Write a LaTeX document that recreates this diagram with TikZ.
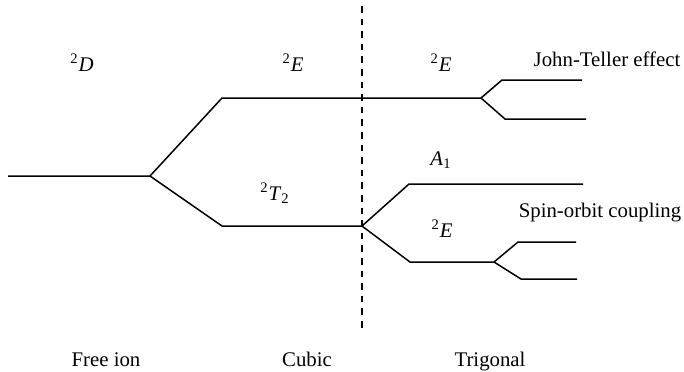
\documentclass[tikz,border=0pt]{standalone}
\usepackage{fontspec}
\setmainfont{Liberation Serif}
\tikzset{
  level/.style={line width=0.75pt},
  lbl/.style={anchor=base, inner sep=0pt, font=\fontsize{10.4}{12}\selectfont},
  divider/.style={line width=0.75pt, dash pattern=on 3.3pt off 3pt}
}
\begin{document}
\begin{tikzpicture}[x=0.5pt, y=-0.5pt]
  \useasboundingbox (0,0) rectangle (684,371);
  % Define level end points
  \coordinate (fiL) at (8,176);
  \coordinate (fiR) at (150,176);
  \coordinate (cEL) at (222,98);
  \coordinate (cER) at (481,98);
  \coordinate (cTL) at (222,226);
  \coordinate (cTR) at (362,226);
  \coordinate (jtaL) at (502,80);
  \coordinate (jtaR) at (582,80);
  \coordinate (jtbL) at (505,119);
  \coordinate (jtbR) at (586,119);
  \coordinate (aL) at (409,184);
  \coordinate (aR) at (583,184);
  \coordinate (tEL) at (410,262);
  \coordinate (tER) at (494,262);
  \coordinate (soaL) at (518,242);
  \coordinate (soaR) at (576,242);
  \coordinate (sobL) at (521,279);
  \coordinate (sobR) at (577,279);
  \coordinate (dTop) at (362,6);
  \coordinate (dBot) at (362,330);

  % Draw levels
  \draw[level] (fiL) -- (fiR) -- (cEL) -- (cER) -- (jtaL) -- (jtaR);
  \draw[level] (cER) -- (jtbL) -- (jtbR);
  \draw[level] (fiR) -- (cTL) -- (cTR) -- (aL) -- (aR);
  \draw[level] (cTR) -- (tEL) -- (tER) -- (soaL) -- (soaR);
  \draw[level] (tER) -- (sobL) -- (sobR);

  % Cubic / trigonal divider
  \draw[divider] (dTop) -- (dBot);

  % Term labels
  \node[lbl] (D) at (82,71) {\textsuperscript{2}\textit{D}};
  \node[lbl] (Ec) at (293,71) {\textsuperscript{2}\textit{E}};
  \node[lbl] (Et) at (441,71) {\textsuperscript{2}\textit{E}};
  \node[lbl] (JT) at (607,66) {John-Teller effect};
  \node[lbl] (A) at (441,165) {\textit{A}\textsubscript{1}};
  \node[lbl] (T) at (275,200) {\textsuperscript{2}\textit{T}\textsubscript{2}};
  \node[lbl] (SO) at (600,217) {Spin-orbit coupling};
  \node[lbl] (Eb) at (442,237) {\textsuperscript{2}\textit{E}};

  % Symmetry labels
  \node[lbl] (free) at (106,366) {Free ion};
  \node[lbl] (cubic) at (307,366) {Cubic};
  \node[lbl] (trig) at (490,366) {Trigonal};
\end{tikzpicture}
\end{document}
